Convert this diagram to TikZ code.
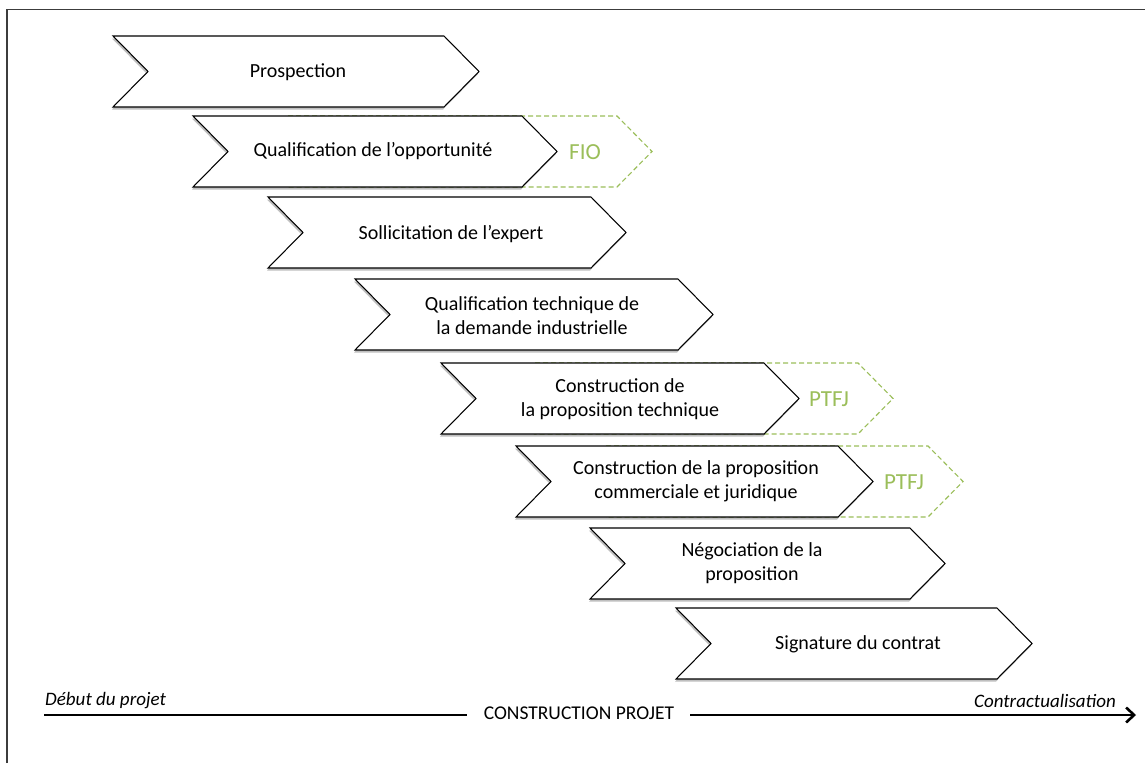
\documentclass[tikz,border=0pt]{standalone}
\usepackage{fontspec}
\setmainfont{Carlito}
\usetikzlibrary{arrows.meta,shadows}
\definecolor{olive}{RGB}{155,190,90}
\definecolor{framegray}{RGB}{60,60,60}
\tikzset{
  chev/.style={draw=black, line width=1.05pt, fill=white, line join=miter,
    drop shadow={shadow xshift=-1pt, shadow yshift=-2.5pt, fill=black, opacity=0.25}},
  gchev/.style={draw=olive, line width=1.1pt, dashed, dash pattern=on 5pt off 3pt, fill=white},
  lbl/.style={font=\fontsize{20}{24}\selectfont, align=center, inner sep=0pt},
  glbl/.style={font=\fontsize{23}{27}\selectfont, text=olive, inner sep=0pt},
  axlbl/.style={font=\fontsize{19}{22}\selectfont\itshape, inner sep=0pt},
}
% #1 left, #2 top, #3 width
\newcommand{\chevpath}[3]{(#1,#2) -- ({#1+#3-35},#2) -- ({#1+#3},{#2+35.5}) -- ({#1+#3-35},{#2+71}) -- (#1,{#2+71}) -- ({#1+35},{#2+35.5}) -- cycle}
\begin{document}
\begin{tikzpicture}[x=1pt,y=-1pt]
\useasboundingbox (0,0) rectangle (1145,763);
% frame
\draw[framegray, line width=1.4pt] (7,763) -- (7,9.5) -- (1145,9.5);

% green dashed chevrons (behind)
\path[gchev] \chevpath{288}{116}{364};
\path[gchev] \chevpath{535}{363}{358};
\path[gchev] \chevpath{606}{446}{357};

% black chevrons
\path[chev] \chevpath{113}{36}{366};
\path[chev] \chevpath{193}{116}{364};
\path[chev] \chevpath{268}{197}{358};
\path[chev] \chevpath{355}{279}{358};
\path[chev] \chevpath{441}{363}{358};
\path[chev] \chevpath{516}{446}{357};
\path[chev] \chevpath{590}{528}{355};
\path[chev] \chevpath{676}{608}{356};

% labels
\node[lbl] (s1) at (298,72) {Prospection};
\node[lbl] (s2) at (373,151) {Qualification de l’opportunité};
\node[lbl] (s3) at (451,234) {Sollicitation de l’expert};
\node[lbl] (s4) at (532,316) {Qualification technique de\\la demande industrielle};
\node[lbl] (s5) at (620,399) {Construction de\\la proposition technique};
\node[lbl] (s6) at (696,481) {Construction de la proposition\\commerciale et juridique};
\node[lbl] (s7) at (752,563) {Négociation de la\\proposition};
\node[lbl] (s8) at (858,644) {Signature du contrat};

\node[glbl] (g1) at (585,152) {FIO};
\node[glbl] (g2) at (829,399) {PTFJ};
\node[glbl] (g3) at (904,482) {PTFJ};

% axis
\coordinate (a0) at (44,715);
\coordinate (a1) at (467,715);
\coordinate (a2) at (690,715);
\coordinate (a3) at (1136,715);
\node[font=\fontsize{19.5}{24}\selectfont, inner sep=0pt] (cp) at (579,713) {CONSTRUCTION PROJET};
\draw[line width=2pt] (a0) -- (a1);
\draw[line width=2pt, -{Straight Barb[length=8pt,width=15pt,line width=2.6pt]}] (a2) -- (a3);
\node[axlbl, anchor=west] (deb) at (45,701) {Début du projet};
\node[axlbl, anchor=east] (fin) at (1116,701) {Contractualisation};
\end{tikzpicture}
\end{document}
